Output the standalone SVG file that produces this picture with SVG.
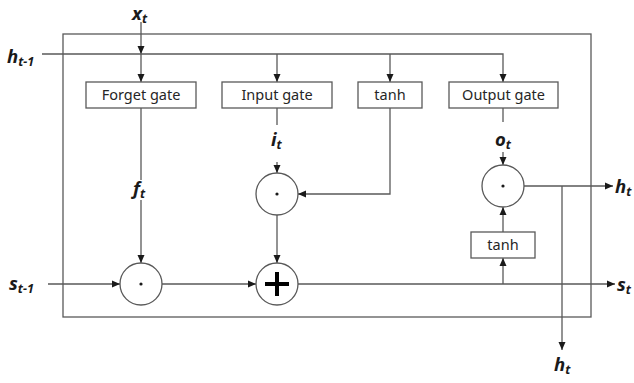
<svg xmlns="http://www.w3.org/2000/svg" width="634" height="383" viewBox="0 0 634 383">
<style>
.ln{fill:none;stroke:#595959;stroke-width:1.3}
.bx{fill:#fff;stroke:#595959;stroke-width:1.3}
.bt{font-family:"Noto Sans","Open Sans",sans-serif;font-size:14.5px;fill:#262626;text-anchor:middle}
.lb{font-family:"Noto Sans","Open Sans",sans-serif;font-weight:bold;font-style:italic;font-size:18.5px;fill:#1a1a1a}
.sb{font-size:12.5px}
.dot{fill:#1a1a1a}
</style>
<defs>
<marker id="a" viewBox="0 0 8 8" refX="8" refY="4" markerWidth="8" markerHeight="8" markerUnits="userSpaceOnUse" orient="auto"><path d="M0,0.5 L8,4 L0,7.5z" fill="#1a1a1a"/></marker>
</defs>
<rect x="63" y="34" width="528" height="283" class="ln"/>
<g id="connectors">
<path class="ln" d="M141,22 V54" marker-end="url(#a)"/>
<path class="ln" d="M141,54 V82" marker-end="url(#a)"/>
<path class="ln" d="M42,54 H503 V82" marker-end="url(#a)"/>
<path class="ln" d="M277,54 V82" marker-end="url(#a)"/>
<path class="ln" d="M390,54 V82" marker-end="url(#a)"/>
<path class="ln" d="M141,108 V180"/>
<path class="ln" d="M141,200 V263" marker-end="url(#a)"/>
<path class="ln" d="M277,108 V125"/>
<path class="ln" d="M277,162 V173" marker-end="url(#a)"/>
<path class="ln" d="M503,108 V122"/>
<path class="ln" d="M503,152 V165" marker-end="url(#a)"/>
<path class="ln" d="M390,108 V194 H298" marker-end="url(#a)"/>
<path class="ln" d="M277,215 V263" marker-end="url(#a)"/>
<path class="ln" d="M48,284 H120" marker-end="url(#a)"/>
<path class="ln" d="M162,284 H256" marker-end="url(#a)"/>
<path class="ln" d="M298,284 H615" marker-end="url(#a)"/>
<path class="ln" d="M503,284 V258" marker-end="url(#a)"/>
<path class="ln" d="M503,232 V207" marker-end="url(#a)"/>
<path class="ln" d="M524,186 H613" marker-end="url(#a)"/>
<path class="ln" d="M562,186 V350" marker-end="url(#a)"/>
</g>
<g id="forget"><rect class="bx" x="86" y="82" width="110" height="26"/><text class="bt" x="141" y="100">Forget gate</text></g>
<g id="input"><rect class="bx" x="222" y="82" width="110" height="26"/><text class="bt" x="277" y="100">Input gate</text></g>
<g id="tanh1"><rect class="bx" x="358" y="82" width="64" height="26"/><text class="bt" x="390" y="100">tanh</text></g>
<g id="output"><rect class="bx" x="449" y="82" width="109" height="26"/><text class="bt" x="503.5" y="100">Output gate</text></g>
<g id="tanh2"><rect class="bx" x="471" y="232" width="64" height="26"/><text class="bt" x="503" y="250">tanh</text></g>
<g id="mul1"><circle class="bx" cx="141" cy="284" r="21"/><circle class="dot" cx="141" cy="284" r="1.6"/></g>
<g id="mul2"><circle class="bx" cx="277" cy="194" r="21"/><circle class="dot" cx="277" cy="194" r="1.6"/></g>
<g id="mul3"><circle class="bx" cx="503" cy="186" r="21"/><circle class="dot" cx="503" cy="186" r="1.6"/></g>
<g id="add"><circle class="bx" cx="277" cy="284" r="21"/><path d="M265,284 H289 M277,272 V296" stroke="#000" stroke-width="4" fill="none"/></g>
<g id="labels">
<text class="lb" x="132" y="20">x<tspan class="sb" dy="3">t</tspan></text>
<text class="lb" x="7" y="63">h<tspan class="sb" dy="3">t-1</tspan></text>
<text class="lb" x="133" y="195">f<tspan class="sb" dy="3">t</tspan></text>
<text class="lb" x="271" y="146">i<tspan class="sb" dy="3">t</tspan></text>
<text class="lb" x="495" y="146">o<tspan class="sb" dy="3">t</tspan></text>
<text class="lb" x="9" y="290">s<tspan class="sb" dy="3">t-1</tspan></text>
<text class="lb" x="617" y="291">s<tspan class="sb" dy="3">t</tspan></text>
<text class="lb" x="615" y="193">h<tspan class="sb" dy="3">t</tspan></text>
<text class="lb" x="554" y="371">h<tspan class="sb" dy="3">t</tspan></text>
</g>
</svg>
